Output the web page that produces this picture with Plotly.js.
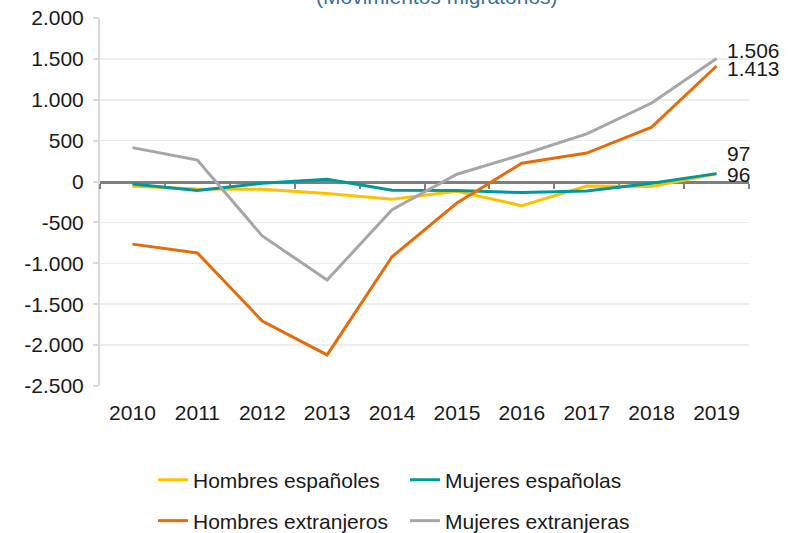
<!DOCTYPE html>
<html>
<head>
<meta charset="utf-8">
<script src="https://cdn.plot.ly/plotly-3.0.1.min.js"></script>
<style>html,body{margin:0;padding:0;background:#fff;}#chart{width:793px;height:533px;}</style>
</head>
<body>
<div id="chart"></div>
<script>
// Data
const years = ['2010','2011','2012','2013','2014','2015','2016','2017','2018','2019'];
const hombresEspanoles   = [-58, -92, -95, -145, -215, -118, -295, -55, -60, 96];
const mujeresEspanolas   = [-30, -110, -20, 28, -105, -108, -135, -115, -20, 97];
const hombresExtranjeros = [-765, -873, -1705, -2120, -920, -262, 225, 348, 665, 1413];
const mujeresExtranjeras = [415, 262, -665, -1203, -345, 90, 328, 582, 960, 1506];
const seriesNames = ['Hombres españoles','Mujeres españolas','Hombres extranjeros','Mujeres extranjeras'];
const yTickVals = [2000, 1500, 1000, 500, 0, -500, -1000, -1500, -2000, -2500];
const yTickText = ['2.000','1.500','1.000','500','0','-500','-1.000','-1.500','-2.000','-2.500'];
const subtitle = '(Movimientos migratorios)';

const colors = ['#ffc000', '#00999b', '#e46c0a', '#a6a6a6'];
const allSeries = [hombresEspanoles, mujeresEspanolas, hombresExtranjeros, mujeresExtranjeras];
const FONT = 'Liberation Sans, Arial, sans-serif';
const FS = 21;

function fmt(v){ return (v<0?'-':'') + String(Math.abs(v)).replace(/\B(?=(\d{3})+(?!\d))/g,'.'); }

const traces = allSeries.map((s,i)=>({
  x: years, y: s, type:'scatter', mode:'lines', name: seriesNames[i],
  line:{color:colors[i], width:3}, legend: i<2 ? 'legend' : 'legend2',
  hoverinfo:'skip'
}));
// invisible helper trace for the zero axis line
traces.push({x: years, y: years.map(()=>null), xaxis:'x2', type:'scatter', mode:'lines', showlegend:false, hoverinfo:'skip'});

const last = years.length-1;
const labelShifts = [-1, 20, -2, 8]; // yshift in px for end labels (order: HE, ME, HX, MX)
const annotations = [0,1,2,3].map(i=>({
  x: last, y: allSeries[i][last], xref:'x', yref:'y',
  text: fmt(allSeries[i][last]), showarrow:false, xanchor:'left', yanchor:'middle',
  xshift: 8, yshift: labelShifts[i], font:{family:FONT, size:FS, color:'#1a1a1a'}
}));
annotations.push({
  x: 0.519, y: 1, xref:'paper', yref:'paper', text: subtitle, showarrow:false,
  xanchor:'center', yanchor:'bottom', yshift: 8, font:{family:FONT, size:FS, color:'#3a6e9c'}
});

const yMin = -2500, yMax = 2000;
const layout = {
  width:793, height:533,
  margin:{l:100, r:44, t:18, b:147, autoexpand:false},
  paper_bgcolor:'#fff', plot_bgcolor:'#fff',
  showlegend:true,
  xaxis:{type:'category', range:[-0.5, 9.5], showline:false, ticks:'', showgrid:false, zeroline:false,
         tickfont:{family:FONT, size:FS, color:'#1a1a1a'}, ticklabelstandoff: 12, fixedrange:true, automargin:false},
  xaxis2:{type:'category', overlaying:'x', anchor:'free', position:(0 - yMin)/(yMax - yMin),
          range:[-0.5, 9.5], showline:true, linecolor:'#7f7f7f', linewidth:3, ticks:'outside', ticklen:5,
          tickwidth:2, tickcolor:'#7f7f7f', tickson:'boundaries', showticklabels:false, showgrid:false,
          zeroline:false, layer:'below traces', automargin:false},
  yaxis:{range:[yMin, yMax], tickvals:yTickVals, ticktext:yTickText, showline:true, linecolor:'#d9d9d9',
         linewidth:2, ticks:'outside', ticklen:5, tickcolor:'#d9d9d9', tickwidth:2, gridcolor:'#ededed', gridwidth:1.5,
         zeroline:false, tickfont:{family:FONT, size:FS, color:'#1a1a1a'}, ticklabelstandoff: 5, fixedrange:true,
         layer:'below traces', automargin:false},
  legend:{orientation:'h', x:(153-100)/649, xanchor:'left', y:(386-480)/368, yanchor:'middle',
          font:{family:FONT, size:FS, color:'#1a1a1a'}, entrywidth:207, bgcolor:'rgba(0,0,0,0)'},
  legend2:{orientation:'h', x:(153-100)/649, xanchor:'left', y:(386-521)/368, yanchor:'middle',
          font:{family:FONT, size:FS, color:'#1a1a1a'}, entrywidth:207, bgcolor:'rgba(0,0,0,0)'},
  annotations: annotations
};

Plotly.newPlot('chart', traces, layout, {staticPlot:true, displayModeBar:false});
</script>
</body>
</html>
